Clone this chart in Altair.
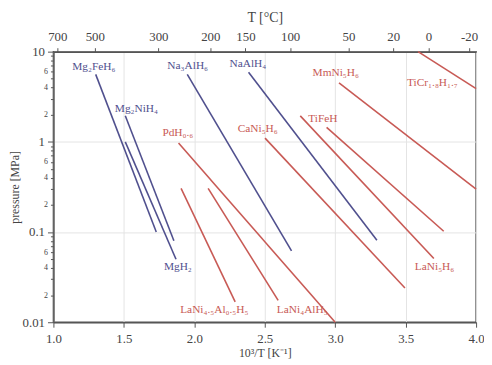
import altair as alt
import pandas as pd

# ---- data ----
names = ["Mg₂FeH₆", "Mg₂NiH₄", "MgH₂", "Na₃AlH₆", "NaAlH₄", "PdH₀.₆",
         "LaNi₄.₅Al₀.₅H₅", "LaNi₄AlH₅", "CaNi₅H₆", "LaNi₅H₆", "TiFeH",
         "MmNi₅H₆", "TiCr₁.₈H₁.₇"]
group = ["blue", "blue", "blue", "blue", "blue", "red",
         "red", "red", "red", "red", "red", "red", "red"]
x_start = [1.30, 1.51, 1.51, 1.95, 2.385, 1.888, 1.906, 2.098, 2.502, 2.752, 2.939, 3.027, 3.588]
p_start = [5.6, 1.95, 1.0, 5.6, 5.9, 0.97, 0.305, 0.305, 1.1, 1.94, 1.445, 4.5, 10.0]
x_end = [1.73, 1.855, 1.87, 2.69, 3.296, 3.0, 2.29, 2.595, 3.495, 3.70, 3.77, 4.0, 4.0]
p_end = [0.10, 0.08, 0.05, 0.062, 0.081, 0.01, 0.0168, 0.0175, 0.024, 0.051, 0.102, 0.30, 3.9]

label_x = [1.287, 1.589, 1.883, 1.953, 2.38, 1.883, 2.142, 2.766, 2.45, 3.705, 2.913, 3.004, 3.69]
label_p = [6.7, 2.32, 0.041, 7.0, 7.2, 1.26, 0.0138, 0.0138, 1.40, 0.041, 1.8, 5.74, 4.47]

top_celsius = [700, 500, 300, 200, 150, 100, 50, 20, 0, -20]
bottom_ticks = [1.0, 1.5, 2.0, 2.5, 3.0, 3.5, 4.0]
y_ticks = [round(m * 10 ** e, 4) for e in (-2, -1, 0) for m in range(1, 10)] + [10.0]

lines = pd.DataFrame({"name": names, "group": group, "x": x_start, "y": p_start,
                      "x2": x_end, "y2": p_end})
labels = pd.DataFrame({"name": names, "group": group, "x": label_x, "y": label_p})
top = pd.DataFrame({"x": [1000.0 / (t + 273.15) for t in top_celsius]})

FONT = "Liberation Serif"
AX = "#555555"
M = "(datum.value / pow(10, floor(log(datum.value) / LN10 + 1e-6)))"
is_major = f"abs({M} - 1) < 0.01"
is_minor_label = f"abs({M} - 2) < 0.01 || abs({M} - 4) < 0.01 || abs({M} - 6) < 0.01"

xscale = alt.Scale(domain=[1.0, 4.0], nice=False, zero=False)
yscale = alt.Scale(type="log", domain=[0.01, 10], nice=False)
color_scale = alt.Scale(domain=["blue", "red"], range=["#50508e", "#c85a55"])
text_scale = alt.Scale(domain=["blue", "red"], range=["#4f4fa0", "#d0504c"])

yaxis = alt.Axis(
    title="pressure [MPa]", values=y_ticks, titleFont=FONT, titleFontSize=12,
    titleFontWeight="normal", titleColor="#444", titlePadding=1,
    labelFont=FONT, labelColor="#444", labelFlush=False,
    labelExpr=f"({is_major}) ? toString(datum.value) : (({is_minor_label}) ? format({M}, '.0f') : '')",
    labelFontSize={"condition": {"test": is_major, "value": 13}, "value": 8},
    tickSize={"condition": {"test": is_major, "value": 6}, "value": 3},
    tickColor=AX, domainColor=AX, domainWidth=1.5, labelPadding=3,
    grid=True, gridColor="#e4e4e4",
    gridOpacity={"condition": {"test": is_major, "value": 1}, "value": 0},
)
xaxis = alt.Axis(
    title="10³/T [K⁻¹]", values=bottom_ticks, format=".1f", titleFont=FONT,
    titleFontSize=12, titleFontWeight="normal", titleColor="#444", titlePadding=2,
    labelFont=FONT, labelFontSize=13, labelColor="#444", labelFlush=False,
    tickSize=5, tickColor=AX,
    domainColor=AX, domainWidth=1.5, labelPadding=6, grid=True, gridColor="#e4e4e4",
)
topaxis = alt.Axis(
    orient="top", title="T [°C]", values=[1000.0 / (t + 273.15) for t in top_celsius],
    labelExpr="toString(round(1000 / datum.value - 273.15))",
    titleFont=FONT, titleFontSize=14, titleFontWeight="normal", titleColor="#444",
    titlePadding=7, labelFont=FONT, labelFontSize=13, labelColor="#444", labelFlush=False,
    tickSize=4, tickColor=AX, domainColor=AX, domainWidth=1.5, labelPadding=4, grid=False,
)

rules = alt.Chart(lines).mark_rule(strokeWidth=1.6).encode(
    x=alt.X("x:Q", scale=xscale, axis=xaxis),
    x2="x2:Q",
    y=alt.Y("y:Q", scale=yscale, axis=yaxis),
    y2="y2:Q",
    color=alt.Color("group:N", scale=color_scale, legend=None),
)
texts = alt.Chart(labels).mark_text(font=FONT, fontSize=11.5).encode(
    x=alt.X("x:Q", scale=xscale, axis=xaxis),
    y=alt.Y("y:Q", scale=yscale, axis=yaxis),
    text="name:N",
    color=alt.Color("group:N", scale=text_scale, legend=None),
)
main = alt.layer(rules, texts)
toplayer = alt.Chart(top).mark_point(opacity=0).encode(
    x=alt.X("x:Q", scale=xscale, axis=topaxis),
)

chart = alt.layer(main, toplayer).resolve_scale(
    x="independent", color="independent"
).properties(
    width=428, height=274,
    autosize=alt.AutoSizeParams(type="none"),
    padding={"left": 46, "top": 42, "right": 8, "bottom": 35},
    background="white",
).configure_view(stroke=AX, strokeWidth=1.5)

chart.save("out.html", embed_options={"renderer": "svg", "actions": False})
